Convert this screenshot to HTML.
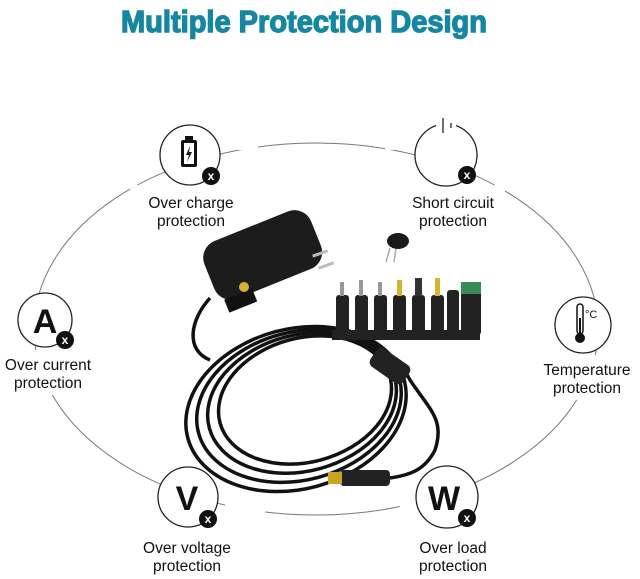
<!DOCTYPE html>
<html><head><style>
html,body{margin:0;padding:0;background:#fff;width:640px;height:579px;overflow:hidden}
svg{display:block}
text{font-family:"Liberation Sans",sans-serif}
</style></head><body>
<svg width="640" height="579" viewBox="0 0 640 579">
<text x="304" y="32" text-anchor="middle" font-size="31" font-weight="bold" fill="#1687a0" stroke="#1687a0" stroke-width="1.4" font-family="Liberation Sans Narrow, Liberation Sans, sans-serif" textLength="366" lengthAdjust="spacingAndGlyphs">Multiple Protection Design</text>
<!-- big ellipse -->
<ellipse cx="316" cy="329" rx="282" ry="186" fill="none" stroke="#777" stroke-width="1"/>
<!-- gaps for labels -->
<g fill="#fff">
<rect x="130" y="185" width="120" height="50"/><rect x="395" y="185" width="110" height="50"/>
<rect x="0" y="350" width="95" height="45"/><rect x="530" y="355" width="110" height="45"/>
<rect x="125" y="525" width="120" height="54"/><rect x="400" y="525" width="100" height="54"/>
<rect x="218" y="120" width="40" height="30"/><rect x="225" y="500" width="40" height="30"/>
<rect x="385" y="120" width="30" height="30"/><rect x="400" y="500" width="30" height="30"/>
<rect x="10" y="280" width="20" height="40"/><rect x="600" y="285" width="20" height="40"/>
</g>
<!-- icon circles -->
<g fill="#fff" stroke="#222" stroke-width="1.3">
<circle cx="190" cy="155" r="30"/><circle cx="446" cy="155" r="31"/>
<circle cx="45" cy="320" r="27"/><circle cx="583" cy="325" r="28"/>
<circle cx="188" cy="497" r="30"/><circle cx="447" cy="497" r="31"/>
</g>
<!-- battery -->
<rect x="181" y="140" width="16" height="27" rx="2" fill="#111"/><rect x="185" y="136" width="8" height="5" fill="#111"/>
<rect x="184" y="143" width="10" height="21" fill="#fff"/><path d="M190 146 L186 155 L189 155 L187 162 L192 152 L189 152 Z" fill="#111"/>
<!-- power icon gap -->
<rect x="436" y="120" width="20" height="14" fill="#fff"/>
<line x1="443" y1="118" x2="443" y2="133" stroke="#222" stroke-width="1.3"/><line x1="451" y1="123" x2="451" y2="128" stroke="#222" stroke-width="1.3"/>
<!-- letters -->
<text x="45" y="333" text-anchor="middle" font-size="34" font-weight="bold" fill="#111">A</text>
<text x="187" y="510" text-anchor="middle" font-size="34" font-weight="bold" fill="#111">V</text>
<text x="444" y="510" text-anchor="middle" font-size="34" font-weight="bold" fill="#111">W</text>
<!-- thermometer -->
<rect x="577" y="304" width="6" height="30" rx="3" fill="#fff" stroke="#111" stroke-width="1.5"/><circle cx="580" cy="338" r="5" fill="#111"/><rect x="579" y="318" width="2" height="18" fill="#111"/>
<text x="585" y="318" font-size="11" fill="#111">°C</text>
<!-- x badges -->
<g fill="#111"><circle cx="211" cy="176" r="9"/><circle cx="467" cy="175" r="9"/><circle cx="65" cy="340" r="9"/><circle cx="208" cy="519" r="9"/><circle cx="467" cy="518" r="9"/></g>
<g fill="#fff" font-size="12" font-weight="bold" text-anchor="middle">
<text x="211" y="180">x</text><text x="467" y="179">x</text><text x="65" y="344">x</text><text x="208" y="523">x</text><text x="467" y="522">x</text></g>
<!-- labels -->
<g font-size="15.5" fill="#111" text-anchor="middle">
<text x="191" y="208">Over charge</text><text x="191" y="226">protection</text>
<text x="453" y="208">Short circuit</text><text x="453" y="226">protection</text>
<text x="48" y="370">Over current</text><text x="48" y="388">protection</text>
<text x="587" y="375">Temperature</text><text x="587" y="393">protection</text>
<text x="187" y="553">Over voltage</text><text x="187" y="571">protection</text>
<text x="453" y="553">Over load</text><text x="453" y="571">protection</text>
</g>
<!-- cable coils -->
<g fill="none" stroke="#111" stroke-width="3.5">
<ellipse cx="305" cy="400" rx="88" ry="62" transform="rotate(-15 305 400)"/>
<ellipse cx="302" cy="403" rx="96" ry="68" transform="rotate(-15 302 403)"/>
<ellipse cx="299" cy="406" rx="104" ry="74" transform="rotate(-15 299 406)"/>
<ellipse cx="296" cy="409" rx="112" ry="80" transform="rotate(-15 296 409)"/>
<path d="M210 298 C190 320 185 350 210 360"/>
<path d="M350 340 C380 350 400 360 410 380 C430 410 445 420 435 450 C425 470 410 475 390 478"/>
</g>
<!-- ferrite -->
<rect x="370" y="355" width="40" height="22" rx="6" fill="#222" transform="rotate(35 390 366)"/>
<!-- plug end -->
<rect x="340" y="470" width="50" height="16" rx="4" fill="#222"/><rect x="328" y="472" width="14" height="12" fill="#c8a420"/>
<!-- adapter -->
<g transform="rotate(-22 260 255)">
<rect x="205" y="225" width="115" height="62" rx="18" fill="#1c1c1c"/>
<rect x="210" y="283" width="30" height="14" fill="#111"/>
</g>
<circle cx="244" cy="287" r="5" fill="#d8b030"/>
<rect x="312" y="252" width="16" height="3" fill="#bbb" transform="rotate(-20 320 253)"/>
<rect x="318" y="264" width="16" height="3" fill="#bbb" transform="rotate(-20 326 265)"/>
<!-- key -->
<ellipse cx="398" cy="241" rx="11" ry="8" fill="#1a1a1a"/><path d="M390 248 L386 262 M396 249 L394 262" stroke="#aaa" stroke-width="1.5"/>
<!-- tips -->
<rect x="332" y="330" width="148" height="10" fill="#222"/>
<g fill="#222">
<rect x="336" y="295" width="13" height="40" rx="3"/><rect x="355" y="295" width="13" height="40" rx="3"/><rect x="374" y="295" width="13" height="40" rx="3"/>
<rect x="393" y="295" width="13" height="40" rx="3"/><rect x="412" y="295" width="13" height="40" rx="3"/><rect x="431" y="295" width="13" height="40" rx="3"/>
<rect x="447" y="290" width="12" height="45" rx="3"/><rect x="461" y="290" width="20" height="45" rx="3"/>
</g>
<g fill="#999"><rect x="340" y="282" width="4" height="14"/><rect x="359" y="280" width="4" height="16"/><rect x="378" y="282" width="4" height="14"/></g>
<g fill="#d4b530"><rect x="397" y="280" width="5" height="16"/><rect x="435" y="278" width="5" height="18"/></g>
<rect x="415" y="278" width="7" height="18" fill="#333"/>
<rect x="461" y="282" width="20" height="12" fill="#3a8a55"/>
</svg>
</body></html>
